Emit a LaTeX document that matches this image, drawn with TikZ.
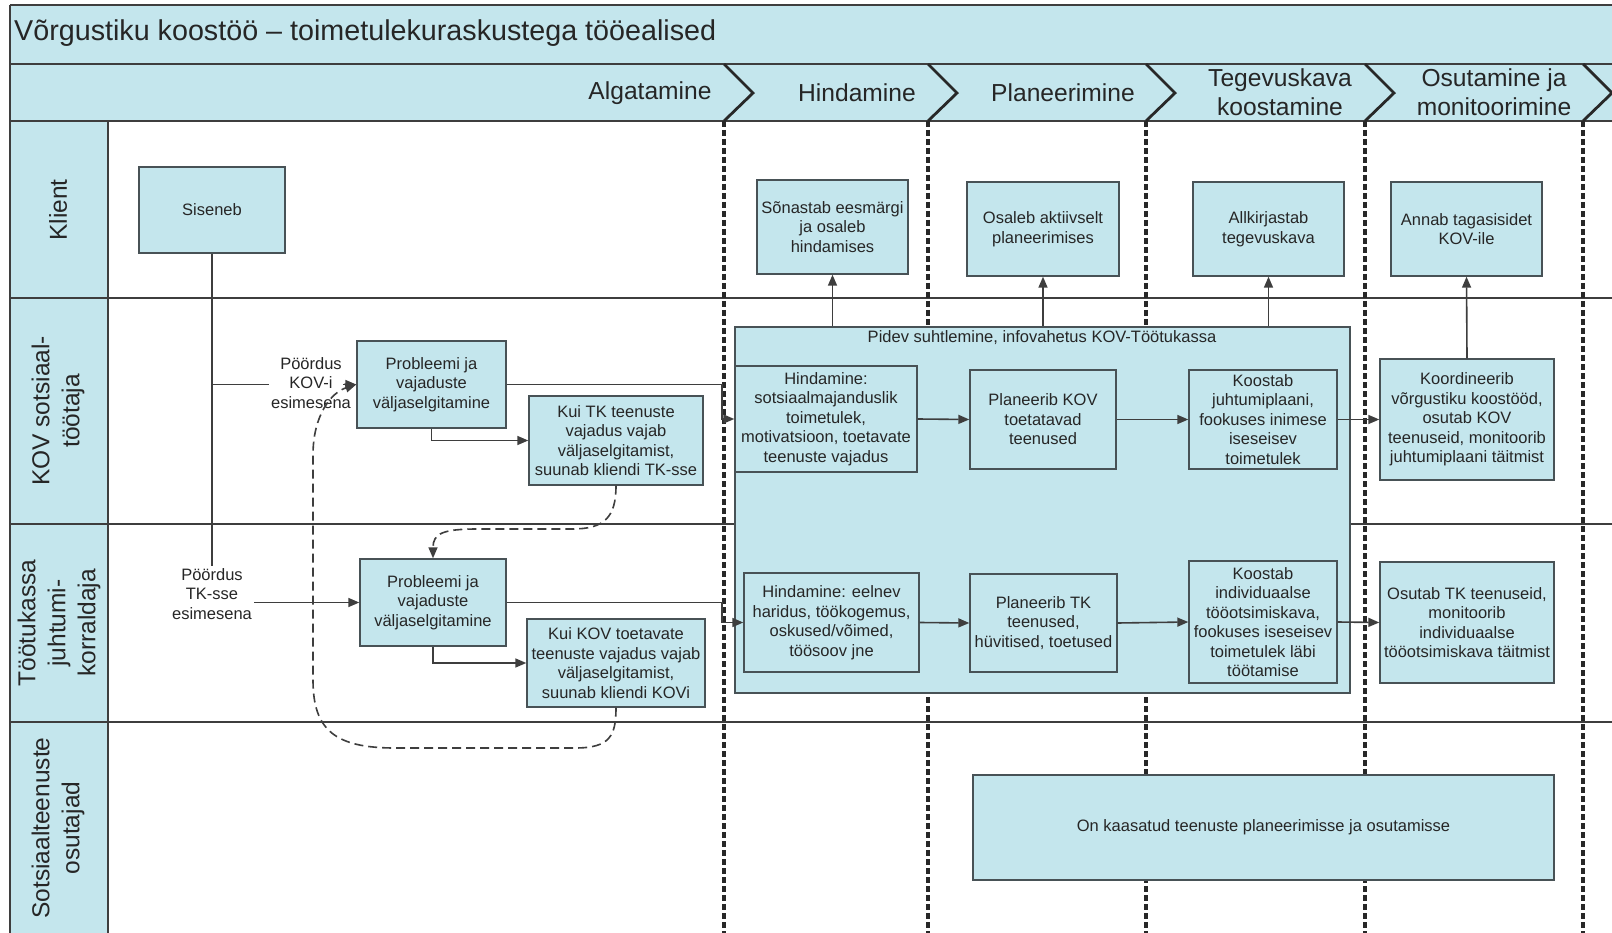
\documentclass[tikz,border=0pt]{standalone}
\usepackage{fontspec}
\setmainfont{Liberation Sans}
\usetikzlibrary{arrows.meta}
\definecolor{lblue}{RGB}{196,230,237}
\definecolor{boxline}{RGB}{72,82,86}
\definecolor{lineclr}{RGB}{62,62,62}
\definecolor{dotclr}{RGB}{40,40,40}
\definecolor{txt}{RGB}{38,38,38}
\newcommand{\bxfont}{\fontsize{16.5pt}{19.5pt}\selectfont}
\newcommand{\phfont}{\fontsize{24.6pt}{29pt}\selectfont}
\newcommand{\lnfont}{\fontsize{24.5pt}{30pt}\selectfont}
\newcommand{\ttlfont}{\fontsize{28.7pt}{34pt}\selectfont}
\tikzset{
  box/.style={draw=boxline, line width=1.4pt, fill=lblue, align=center, inner sep=0pt, font=\bxfont, text=txt},
  conn/.style={draw=lineclr, line width=1.6pt},
  arr/.style={conn, -{Triangle[length=11pt,width=9pt]}},
  darr/.style={arr, dash pattern=on 9pt off 5pt},
  phaseline/.style={draw=dotclr, line width=3.3pt, dash pattern=on 6pt off 3pt},
  chev/.style={draw=dotclr, line width=2.8pt, line join=miter},
  lanesep/.style={draw=lineclr, line width=1.9pt},
  lbl/.style={align=center, font=\bxfont, inner sep=2pt, text=txt},
  phlbl/.style={align=center, font=\phfont, inner sep=0pt, text=txt},
  lnlbl/.style={align=center, font=\lnfont, inner sep=0pt, text=txt, rotate=90}
}
\begin{document}
\begin{tikzpicture}[x=1pt,y=-1pt]
\path[use as bounding box] (0,0) rectangle (1612,933);
\clip (0,0) rectangle (1612,933);
\fill[white] (0,0) rectangle (1612,933);
% header bars and lane header column
\fill[lblue] (10,5) rectangle (1620,121);
\fill[lblue] (10,121) rectangle (108,940);
\draw[lanesep] (10,5) -- (1620,5);
\draw[lanesep] (10,5) -- (10,940);
\draw[lanesep] (10,64) -- (1620,64);
\draw[lanesep] (10,121) -- (1620,121);
\draw[lanesep] (10,298) -- (1620,298);
\draw[lanesep] (10,524) -- (1620,524);
\draw[lanesep] (10,722) -- (1620,722);
\draw[lanesep] (108,121) -- (108,940);
% phase separators
\foreach \x in {724,928,1146,1365,1583}{
  \draw[phaseline] (\x,121) -- (\x,940);
  \draw[chev] (\x,64) -- (\x+29,93) -- (\x,121);
}
% title and phase labels
\node[anchor=west, font=\ttlfont, inner sep=0pt, text=txt] (title) at (14,33) {Võrgustiku koostöö – toimetulekuraskustega tööealised};
\node[phlbl] (ph1) at (650,93) {Algatamine};
\node[phlbl] (ph2) at (857,93) {Hindamine};
\node[phlbl] (ph3) at (1063,93) {Planeerimine};
\node[phlbl] (ph4) at (1280,92) {Tegevuskava\\koostamine};
\node[phlbl] (ph5) at (1494,92) {Osutamine ja\\monitoorimine};
% lane labels
\node[lnlbl] (ln1) at (58,210) {Klient};
\node[lnlbl] (ln2) at (58,411) {KOV sotsiaal-\\töötaja};
\node[lnlbl] (ln3) at (59,623) {Töötukassa\\juhtumi-\\korraldaja};
\node[lnlbl] (ln4) at (58,828) {Sotsiaalteenuste\\osutajad};
% boxes
\node[box, minimum width=146pt, minimum height=86pt] (siseneb) at (212,210) {Siseneb};
\node[box, minimum width=149pt, minimum height=87pt] (probK) at (431.5,384.5) {Probleemi ja\\vajaduste\\väljaselgitamine};
\node[box, minimum width=174pt, minimum height=89pt] (kuiTK) at (616,440.5) {Kui TK teenuste\\vajadus vajab\\väljaselgitamist,\\suunab kliendi TK-sse};
\node[box, minimum width=615pt, minimum height=366pt] (big) at (1042.5,510) {};
\node[lbl] (pidev) at (1042,338) {Pidev suhtlemine, infovahetus KOV-Töötukassa};
\node[box, minimum width=182pt, minimum height=106pt] (hindK) at (826,419) {Hindamine:\\sotsiaalmajanduslik\\toimetulek,\\motivatsioon, toetavate\\teenuste vajadus};
\node[box, minimum width=146pt, minimum height=99pt] (planK) at (1043,419.5) {Planeerib KOV\\toetatavad\\teenused};
\node[box, minimum width=148pt, minimum height=99pt] (koostK) at (1263,419.5) {Koostab\\juhtumiplaani,\\fookuses inimese\\iseseisev\\toimetulek};
\node[box, minimum width=174pt, minimum height=121pt] (koord) at (1467,419.5) {Koordineerib\\võrgustiku koostööd,\\osutab KOV\\teenuseid, monitoorib\\juhtumiplaani täitmist};
\node[box, minimum width=151pt, minimum height=94pt] (sonast) at (832.5,227) {Sõnastab eesmärgi\\ja osaleb\\hindamises};
\node[box, minimum width=152pt, minimum height=94pt] (osaleb) at (1043,229) {Osaleb aktiivselt\\planeerimises};
\node[box, minimum width=151pt, minimum height=94pt] (allk) at (1268.5,229) {Allkirjastab\\tegevuskava};
\node[box, minimum width=151pt, minimum height=94pt] (annab) at (1466.5,229) {Annab tagasisidet\\KOV-ile};
\node[box, minimum width=146pt, minimum height=87pt] (probTK) at (433,602.5) {Probleemi ja\\vajaduste\\väljaselgitamine};
\node[box, minimum width=178pt, minimum height=88pt] (kuiKOV) at (616,663) {Kui KOV toetavate\\teenuste vajadus vajab\\väljaselgitamist,\\suunab kliendi KOVi};
\node[box, minimum width=175pt, minimum height=99pt] (hindTK) at (831.5,622.5) {Hindamine: eelnev\\haridus, töökogemus,\\oskused/võimed,\\töösoov jne};
\node[box, minimum width=147pt, minimum height=98pt] (planTK) at (1043.5,623) {Planeerib TK\\teenused,\\hüvitised, toetused};
\node[box, minimum width=148pt, minimum height=122pt] (koostTK) at (1263,622) {Koostab\\individuaalse\\tööotsimiskava,\\fookuses iseseisev\\toimetulek läbi\\töötamise};
\node[box, minimum width=174pt, minimum height=121pt] (osutTK) at (1467,622.5) {Osutab TK teenuseid,\\monitoorib\\individuaalse\\tööotsimiskava täitmist};
\node[box, minimum width=581pt, minimum height=105pt] (onk) at (1263.5,827.5) {On kaasatud teenuste planeerimisse ja osutamisse};
% entry labels
\node[lbl] (lblK) at (311,383) {Pöördus\\KOV-i\\esimesena};
\node[lbl] (lblTK) at (212,594) {Pöördus\\TK-sse\\esimesena};
% helper coordinates
\coordinate (cK) at (722,0);
\coordinate (jK) at (212,384.5);
% entry connectors
\draw[conn] (siseneb.south) -- (lblTK.north);
\draw[conn] (jK) -- (lblK.west |- jK);
\coordinate (aK) at (343,384.5);
\draw[arr] (aK) -- (probK.west);
\draw[arr] (lblTK.east |- probTK.west) -- (probTK.west);
% flows
\draw[arr] (probK.east) -- (probK.east -| cK) |- (hindK.west);
\draw[arr] (probTK.east) -- (probTK.east -| cK) |- (hindTK.west);
\draw[arr] (probK.south) |- (kuiTK.west);
\draw[arr] (probTK.south) |- (kuiKOV.west);
\draw[arr] (hindK.east) -- (planK.west);
\draw[arr] (planK.east) -- (koostK.west);
\draw[arr] (koostK.east) -- (koord.west);
\draw[arr] (hindTK.east) -- (planTK.west);
\draw[arr] (planTK.east) -- (koostTK.west);
\draw[arr] (koostTK.east) -- (osutTK.west);
\draw[arr] (sonast.south |- big.north) -- (sonast.south);
\draw[arr] (osaleb.south |- big.north) -- (osaleb.south);
\draw[arr] (allk.south |- big.north) -- (allk.south);
\draw[arr] (koord.north) -- (annab.south);
% dashed redirections
\coordinate (d1a) at (572,529);
\coordinate (d1b) at (478,529);
\draw[darr] (kuiTK.south) .. controls +(0,32) and +(32,0) .. (d1a) -- (d1b) .. controls +(-35,0) and +(0,-25) .. (probTK.north);
\coordinate (d2a) at (575,748);
\coordinate (d2b) at (395,748);
\coordinate (d2c) at (313,680);
\coordinate (d2d) at (313,455);
\draw[darr] (kuiKOV.south) .. controls +(0,28) and +(35,0) .. (d2a) -- (d2b) .. controls +(-60,0) and +(0,50) .. (d2c) -- (d2d) .. controls +(0,-40) and +(-25,8) .. (probK.west);
\end{tikzpicture}
\end{document}
